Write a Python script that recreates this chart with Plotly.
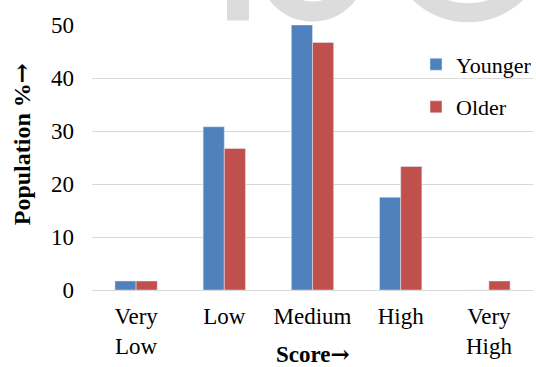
import plotly.graph_objects as go

categories = ["Very<br>Low", "Low", "Medium", "High", "Very<br>High"]
younger = [1.7, 30.8, 50.0, 17.5, 0]
older = [1.7, 26.7, 46.7, 23.3, 1.7]
y_ticks = [0, 10, 20, 30, 40, 50]

W, H = 536, 367
L, R, T, B = 92, 3, 24.5, 77
pw, ph = W - L - R, H - T - B

def px(x):
    return (x - L) / pw

def py(y):
    return (H - B - y) / ph

font_family = "Liberation Serif"
arrow = '<span style="font-family:DejaVu Serif">→</span>'

fig = go.Figure()
fig.add_trace(go.Bar(name="Younger", x=categories, y=younger, marker_color="#4F81BD",
                     legendgroup="a"))
fig.add_trace(go.Bar(name="Older", x=categories, y=older, marker_color="#C0504D",
                     legendgroup="b"))

wm = "#DCDCDC"
shapes = [
    dict(type="rect", xref="paper", yref="paper", x0=px(227), x1=px(249), y0=py(20), y1=py(-10),
         fillcolor=wm, line_width=0, layer="below"),
    dict(type="circle", xref="paper", yref="paper", x0=px(312.5 - 44), x1=px(312.5 + 44),
         y0=py(-33 + 44), y1=py(-33 - 44), line=dict(color=wm, width=20), layer="below"),
    dict(type="circle", xref="paper", yref="paper", x0=px(468 - 70), x1=px(468 + 70),
         y0=py(-57.7 + 70), y1=py(-57.7 - 70), line=dict(color=wm, width=19), layer="below"),
]

annotations = [
    dict(text="<b>Population %" + arrow + "</b>", xref="paper", yref="paper",
         x=px(21), y=py(144), xanchor="center", yanchor="middle", textangle=-90,
         showarrow=False, font=dict(family=font_family, size=24, color="black")),
    dict(text="<b>Score" + arrow + "</b>", xref="paper", yref="paper",
         x=px(313), y=py(354), xanchor="center", yanchor="middle",
         showarrow=False, font=dict(family=font_family, size=23, color="black")),
]

fig.update_layout(
    width=W, height=H,
    margin=dict(l=L, r=R, t=T, b=B, pad=0, autoexpand=False),
    paper_bgcolor="white", plot_bgcolor="white",
    font=dict(family=font_family, size=23, color="black"),
    barmode="group", bargap=0.52, bargroupgap=0,
    showlegend=True,
    legend=dict(x=px(416), y=py(43), xanchor="left", yanchor="top",
                traceorder="grouped", tracegroupgap=11,
                font=dict(family="Liberation Serif, serif", size=22, color="black"),
                bgcolor="rgba(0,0,0,0)"),
    shapes=shapes,
    annotations=annotations,
    xaxis=dict(showgrid=False, showline=False, ticks="", ticklabelstandoff=10, automargin=False),
    yaxis=dict(range=[0, 50], tickvals=y_ticks, showgrid=True, gridcolor="#D9D9D9",
               gridwidth=1, zeroline=True, zerolinecolor="#D9D9D9", zerolinewidth=1,
               showline=False, ticks="", ticklabelstandoff=17, automargin=False),
)

fig.write_html("out.html", config={"displayModeBar": False},
               post_script="document.body.style.margin='0';document.body.style.padding='0';")
